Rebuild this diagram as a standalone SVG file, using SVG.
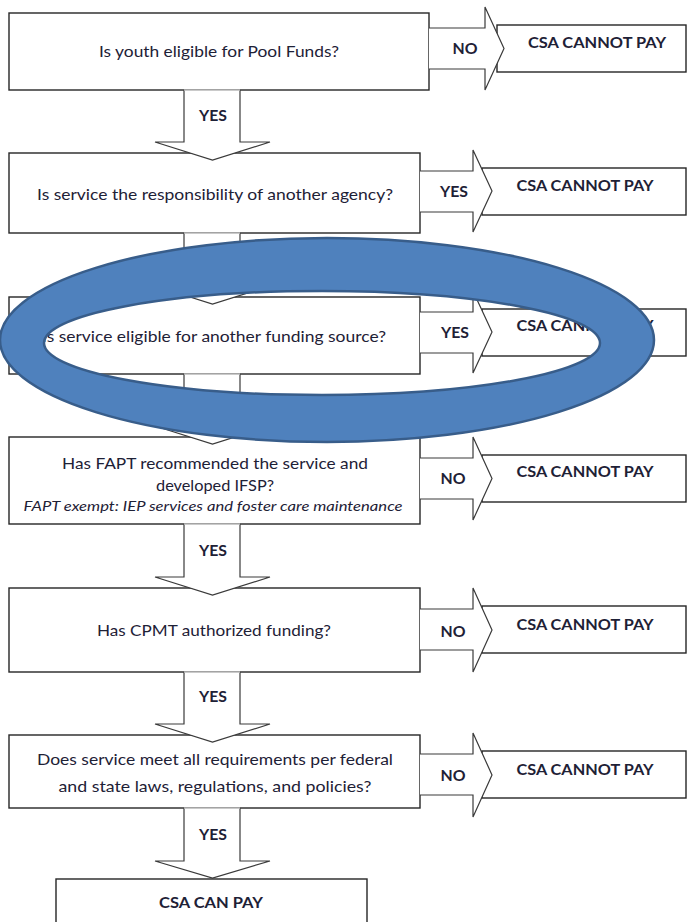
<svg xmlns="http://www.w3.org/2000/svg" width="687" height="922" viewBox="0 0 687 922">
<style>
.box{fill:#fff;stroke:#262626;stroke-width:1.4}
.arr{fill:#fff;stroke:#3a3a3a;stroke-width:1.2;stroke-linejoin:miter}
.edge{stroke:#b8b8b8;stroke-width:1.4}
.t{font-family:Lato,"Liberation Sans",Arial,sans-serif;font-size:16px;fill:#1e2136;text-anchor:middle}
.it{font-family:Lato,"Liberation Sans",Arial,sans-serif;font-size:12.5px;font-style:italic;fill:#1e2136;text-anchor:middle}
.b{font-family:Lato,"Liberation Sans",Arial,sans-serif;font-size:15px;font-weight:bold;fill:#1e2136;text-anchor:middle}
.ring{fill:#4F81BD;fill-rule:evenodd;stroke:#385D8A;stroke-width:2.5}
</style>
<rect width="687" height="922" fill="#fff"/>
<g id="nodes">
<g id="q1"><rect class="box" x="9" y="13" width="420" height="77"/><text class="t" x="219" y="57" textLength="240" lengthAdjust="spacingAndGlyphs">Is youth eligible for Pool Funds?</text></g>
<g id="q2"><rect class="box" x="9" y="153" width="411" height="80"/><text class="t" x="215" y="200" textLength="356" lengthAdjust="spacingAndGlyphs">Is service the responsibility of another agency?</text></g>
<g id="q3"><rect class="box" x="9" y="297" width="411" height="77"/><text class="t" x="214" y="342" textLength="344" lengthAdjust="spacingAndGlyphs">Is service eligible for another funding source?</text></g>
<g id="q4"><rect class="box" x="9" y="437" width="411" height="87"/><text class="t" x="215" y="469" textLength="306" lengthAdjust="spacingAndGlyphs">Has FAPT recommended the service and</text><text class="t" x="215" y="491" textLength="118" lengthAdjust="spacingAndGlyphs">developed IFSP?</text><text class="it" x="213" y="511" textLength="379" lengthAdjust="spacingAndGlyphs">FAPT exempt: IEP services and foster care maintenance</text></g>
<g id="q5"><rect class="box" x="9" y="588" width="411" height="84"/><text class="t" x="214" y="636" textLength="234" lengthAdjust="spacingAndGlyphs">Has CPMT authorized funding?</text></g>
<g id="q6"><rect class="box" x="9" y="735" width="411" height="73"/><text class="t" x="215" y="765" textLength="356" lengthAdjust="spacingAndGlyphs">Does service meet all requirements per federal</text><text class="t" x="215" y="792" textLength="313" lengthAdjust="spacingAndGlyphs">and state laws, regulations, and policies?</text></g>
<g id="pay"><rect class="box" x="56" y="879" width="311" height="60"/><text class="b" x="211" y="908" textLength="104" lengthAdjust="spacingAndGlyphs">CSA CAN PAY</text></g>
<g id="no1"><rect class="box" x="497" y="25" width="189" height="47"/><text class="b" x="597" y="48" textLength="138" lengthAdjust="spacingAndGlyphs">CSA CANNOT PAY</text></g>
<g id="no2"><rect class="box" x="482" y="168" width="204" height="47"/><text class="b" x="585" y="191" textLength="137" lengthAdjust="spacingAndGlyphs">CSA CANNOT PAY</text></g>
<g id="no3"><rect class="box" x="482" y="309" width="204" height="47"/><text class="b" x="585" y="331" textLength="137" lengthAdjust="spacingAndGlyphs">CSA CANNOT PAY</text></g>
<g id="no4"><rect class="box" x="482" y="455" width="204" height="47"/><text class="b" x="585" y="477" textLength="137" lengthAdjust="spacingAndGlyphs">CSA CANNOT PAY</text></g>
<g id="no5"><rect class="box" x="482" y="606" width="204" height="47"/><text class="b" x="585" y="630" textLength="137" lengthAdjust="spacingAndGlyphs">CSA CANNOT PAY</text></g>
<g id="no6"><rect class="box" x="482" y="751" width="204" height="47"/><text class="b" x="585" y="775" textLength="137" lengthAdjust="spacingAndGlyphs">CSA CANNOT PAY</text></g>
</g>
<g id="connectors">
<path class="arr" d="M184 90 V142 H155 L212.5 160 L270 142 H240 V90"/><line class="edge" x1="184" y1="90" x2="240" y2="90"/>
<path class="arr" d="M184 233 V286 H155 L212.5 304 L270 286 H240 V233"/><line class="edge" x1="184" y1="233" x2="240" y2="233"/>
<path class="arr" d="M184 374 V426 H155 L212.5 444 L270 426 H240 V374"/><line class="edge" x1="184" y1="374" x2="240" y2="374"/>
<path class="arr" d="M184 524 V577 H155 L212.5 595 L270 577 H240 V524"/><line class="edge" x1="184" y1="524" x2="240" y2="524"/>
<path class="arr" d="M184 672 V724 H155 L212.5 742 L270 724 H240 V672"/><line class="edge" x1="184" y1="672" x2="240" y2="672"/>
<path class="arr" d="M184 808 V861 H155 L212.5 878 L270 861 H240 V808"/><line class="edge" x1="184" y1="808" x2="240" y2="808"/>
<path class="arr" d="M429 28 H485 V7 L504 48.5 L485 90 V69 H429"/>
<path class="arr" d="M420 171 H473 V150 L492 191 L473 232 V212 H420"/>
<path class="arr" d="M420 312 H473 V291 L492 332 L473 373 V353 H420"/>
<path class="arr" d="M420 458 H473 V437 L492 478.5 L473 520 V499 H420"/>
<path class="arr" d="M420 609 H473 V588 L492 630 L473 672 V650 H420"/>
<path class="arr" d="M420 754 H473 V733 L492 775 L473 817 V795 H420"/>
<text class="b" x="213" y="121" textLength="28" lengthAdjust="spacingAndGlyphs">YES</text>
<text class="b" x="213" y="556" textLength="28" lengthAdjust="spacingAndGlyphs">YES</text>
<text class="b" x="213" y="702" textLength="28" lengthAdjust="spacingAndGlyphs">YES</text>
<text class="b" x="213" y="840" textLength="28" lengthAdjust="spacingAndGlyphs">YES</text>
<text class="b" x="465" y="54" textLength="25" lengthAdjust="spacingAndGlyphs">NO</text>
<text class="b" x="454" y="197" textLength="28" lengthAdjust="spacingAndGlyphs">YES</text>
<text class="b" x="455" y="338" textLength="28" lengthAdjust="spacingAndGlyphs">YES</text>
<text class="b" x="453" y="484" textLength="25" lengthAdjust="spacingAndGlyphs">NO</text>
<text class="b" x="453" y="637" textLength="25" lengthAdjust="spacingAndGlyphs">NO</text>
<text class="b" x="453" y="781" textLength="25" lengthAdjust="spacingAndGlyphs">NO</text>
</g>
<g id="highlight">
<path class="ring" d="M0 340 A327 102 0 1 0 654 340 A327 102 0 1 0 0 340 Z M44 343 A278 52 0 1 0 600 343 A278 52 0 1 0 44 343 Z"/>
</g>
</svg>
